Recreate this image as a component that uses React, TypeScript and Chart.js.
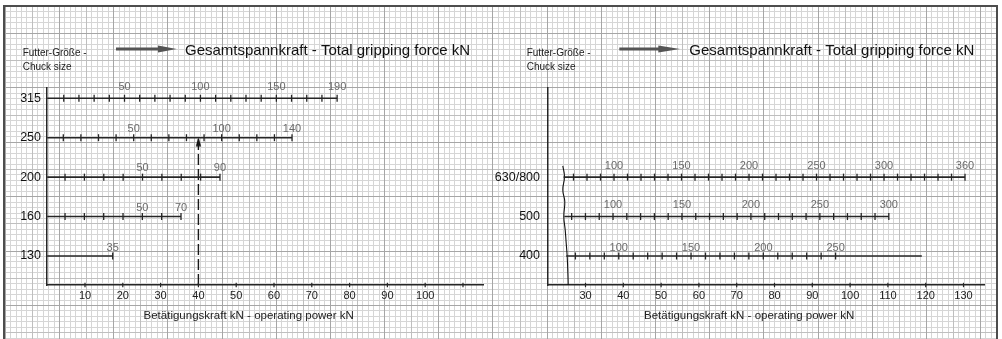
import React, { useEffect, useRef } from 'react';
import { Chart, registerables } from 'chart.js';

Chart.register(...registerables);

const FONT = '"Liberation Sans", Arial, Helvetica, sans-serif';
const INK = '#262626';

// ---------------- data ----------------
// Left nomogram: chuck sizes 130 … 315
const leftSizes = ['130', '160', '200', '250', '315'];
const leftAnchorForce = [35, 10, 10, 50, 50]; // gripping force (kN) at anchor tick
const leftAnchorPower = [17.33, 4.72, 4.72, 22.88, 20.45]; // operating power (kN) there
const leftMaxForce = [35, 70, 90, 140, 190]; // end of each force scale
const leftMaxPower = [17.33, 35.4, 45.71, 64.77, 76.7];
const leftTickFrom = [35, 10, 10, 10, 10];
const leftLineStart = [0, 0, 0, 0, 0];
const leftLineEnd = [17.33, 35.4, 45.71, 64.77, 76.7];
const leftLabelForces = [[35], [50, 70], [50, 90], [50, 100, 140], [50, 100, 150, 190]];
const leftPowerTicks = [10, 20, 30, 40, 50, 60, 70, 80, 90, 100, 110];
const leftPowerLabels = [10, 20, 30, 40, 50, 60, 70, 80, 90, 100];

// Right nomogram: chuck sizes 400 … 630/800
const rightSizes = ['400', '500', '630/800'];
const rightAnchorForce = [100, 100, 100];
const rightAnchorPower = [38.8, 37.28, 37.54];
const rightMaxForce = [250, 300, 360];
const rightMaxPower = [96.16, 110.24, 130.4];
const rightTickFrom = [70, 70, 70];
const rightLineStart = [24.9, 24.4, 24.2];
const rightLineEnd = [118.97, 110.24, 130.4];
const rightLabelForces = [
  [100, 150, 200, 250],
  [100, 150, 200, 250, 300],
  [100, 150, 200, 250, 300, 360],
];
const rightPowerTicks = [30, 40, 50, 60, 70, 80, 90, 100, 110, 120, 130];
const rightPowerLabels = [30, 40, 50, 60, 70, 80, 90, 100, 110, 120, 130];

const forceStep = 10;

// axis-break (wavy) line on the right chart: power (kN) and row level
const breakPower = [24.0, 24.44, 24.0, 24.52, 24.26, 24.63, 24.89, 25.16, 25.32, 25.42];
const breakLevel = [2.286, 2.014, 1.676, 1.379, 0.998, 0.66, 0.33, -0.018, -0.399, -0.7355];

// example reading: 40 kN operating power on chuck 250
const examplePower = 40;
const exampleRow = 3;

const chuckTitle = ['Futter-Größe -', 'Chuck size'];
const forceTitle = 'Gesamtspannkraft - Total gripping force kN';
const powerTitle = 'Betätigungskraft kN - operating power kN';

// ---------------- layout / style ----------------
const Y_MIN = -0.7355;
const Y_MAX = 4.278;

const LEFT = {
  sizes: leftSizes,
  anchorForce: leftAnchorForce,
  anchorPower: leftAnchorPower,
  maxForce: leftMaxForce,
  maxPower: leftMaxPower,
  tickFrom: leftTickFrom,
  lineStart: leftLineStart,
  lineEnd: leftLineEnd,
  labelForces: leftLabelForces,
  powerTicks: leftPowerTicks,
  powerLabels: leftPowerLabels,
  xMin: 0,
  xMax: 115.56,
  padLeft: 0,
  yAxisWidth: 47.2,
  padRight: 1002 - 484,
  yLabelPad: 6.2,
  labelLift: [8.5, 8.7, 9.3, 8.5, 11.3],
  head: { futterX: -24.5, arrowStart: 68.8, arrowBase: 110.8, arrowTip: 129.5, titleX: 137.8 },
  paper: true,
  example: true,
  breakLine: false,
};

const RIGHT = {
  sizes: rightSizes,
  anchorForce: rightAnchorForce,
  anchorPower: rightAnchorPower,
  maxForce: rightMaxForce,
  maxPower: rightMaxPower,
  tickFrom: rightTickFrom,
  lineStart: rightLineStart,
  lineEnd: rightLineEnd,
  labelForces: rightLabelForces,
  powerTicks: rightPowerTicks,
  powerLabels: rightPowerLabels,
  xMin: 20,
  xMax: 135.5,
  padLeft: 440,
  yAxisWidth: 107.7,
  padRight: 1002 - 984.3,
  yLabelPad: 7.7,
  labelLift: [8.2, 11.3, 11.4],
  head: { futterX: -21, arrowStart: 71.6, arrowBase: 110.6, arrowTip: 132.3, titleX: 141.6 },
  paper: false,
  example: false,
  breakLine: true,
};

function powerAt(side: any, i: number, F: number) {
  const fa = side.anchorForce[i];
  const pa = side.anchorPower[i];
  const fb = side.maxForce[i];
  const pb = side.maxPower[i];
  if (fb === fa) return pb;
  return pa + ((F - fa) * (pb - pa)) / (fb - fa);
}

function tickForces(side: any, i: number) {
  const out: number[] = [];
  for (let F = side.tickFrom[i]; F < side.maxForce[i]; F += forceStep) out.push(F);
  out.push(side.maxForce[i]);
  return out;
}

function makeArrowHead() {
  const c = document.createElement('canvas');
  c.width = 7;
  c.height = 18;
  const g = c.getContext('2d')!;
  g.fillStyle = '#111';
  g.beginPath();
  g.moveTo(3.5, 8.5);
  g.lineTo(6.2, 17.5);
  g.lineTo(0.8, 17.5);
  g.closePath();
  g.fill();
  return c;
}

const paperPlugin = {
  id: 'paper',
  beforeDraw(chart: any) {
    const { ctx, width, height } = chart;
    ctx.save();
    ctx.fillStyle = '#ffffff';
    ctx.fillRect(0, 0, width, height);
    const fL = 4, fT = 6, fR = 997;
    const colors = ['#d6d6d6', '#bfbfbf', '#a6a6a6'];
    const vx0 = 4.8, vstep = 5.418, hy0 = 5.8, hstep = 5.44;
    ctx.lineWidth = 1;
    for (let level = 0; level < 3; level++) {
      ctx.strokeStyle = colors[level];
      ctx.beginPath();
      for (let k = 0; ; k++) {
        const x = vx0 + k * vstep;
        if (x > fR) break;
        const lv = k % 10 === 0 ? 2 : k % 5 === 0 ? 1 : 0;
        if (lv !== level) continue;
        const px = Math.round(x) + 0.5;
        ctx.moveTo(px, fT);
        ctx.lineTo(px, height);
      }
      for (let k = 0; ; k++) {
        const y = hy0 + k * hstep;
        if (y > height) break;
        const lv = k % 10 === 5 ? 2 : k % 10 === 0 ? 1 : 0;
        if (lv !== level) continue;
        const py = Math.round(y) + 0.5;
        ctx.moveTo(fL, py);
        ctx.lineTo(fR, py);
      }
      ctx.stroke();
    }
    ctx.strokeStyle = '#4d4d4d';
    ctx.lineWidth = 2;
    ctx.beginPath();
    ctx.moveTo(fL, height);
    ctx.lineTo(fL, fT);
    ctx.lineTo(fR, fT);
    ctx.lineTo(fR, height);
    ctx.stroke();
    ctx.restore();
  },
};

function makeConfig(side: any): any {
  const datasets: any[] = [];
  side.sizes.forEach((_: string, i: number) => {
    datasets.push({
      data: [
        { x: side.lineStart[i], y: i },
        { x: side.lineEnd[i], y: i },
      ],
      showLine: true,
      borderColor: INK,
      borderWidth: 1.6,
      pointRadius: 0,
      clip: false,
    });
    datasets.push({
      data: tickForces(side, i).map((F) => ({ x: powerAt(side, i, F), y: i })),
      showLine: false,
      pointStyle: 'line',
      pointRadius: 3.5,
      pointRotation: 90,
      pointBorderColor: INK,
      pointBackgroundColor: INK,
      pointBorderWidth: 1.3,
      clip: false,
    });
  });
  // tick crosses on the power axis
  datasets.push({
    data: side.powerTicks.map((v: number) => ({ x: v, y: Y_MIN })),
    showLine: false,
    pointStyle: 'line',
    pointRadius: 2.2,
    pointRotation: 90,
    pointBorderColor: INK,
    pointBorderWidth: 1.2,
    clip: false,
  });
  if (side.example) {
    datasets.push({
      data: [
        { x: examplePower, y: Y_MIN },
        { x: examplePower, y: exampleRow },
      ],
      showLine: true,
      borderColor: '#1a1a1a',
      borderWidth: 1.4,
      borderDash: [11, 4],
      pointRadius: 0,
      clip: false,
    });
    datasets.push({
      data: [{ x: examplePower, y: exampleRow }],
      showLine: false,
      pointStyle: makeArrowHead(),
      pointRadius: 4,
      clip: false,
    });
  }
  if (side.breakLine) {
    datasets.push({
      data: breakPower.map((p, k) => ({ x: p, y: breakLevel[k] })),
      showLine: true,
      borderColor: '#111',
      borderWidth: 1.1,
      tension: 0.45,
      pointRadius: 0,
      clip: false,
    });
  }

  const labelsPlugin = {
    id: 'rowLabels',
    afterDatasetsDraw(chart: any) {
      const { ctx } = chart;
      const xs = chart.scales.x;
      const ys = chart.scales.y;
      ctx.save();
      ctx.font = `11px ${FONT}`;
      ctx.fillStyle = '#6b6b6b';
      ctx.textAlign = 'center';
      ctx.textBaseline = 'middle';
      side.labelForces.forEach((list: number[], i: number) => {
        list.forEach((F) => {
          ctx.fillText(
            String(F),
            xs.getPixelForValue(powerAt(side, i, F)),
            ys.getPixelForValue(i) - side.labelLift[i]
          );
        });
      });
      ctx.restore();
    },
  };

  const headPlugin = {
    id: 'heads',
    afterDraw(chart: any) {
      const { ctx, chartArea } = chart;
      const L = chartArea.left;
      const T = chartArea.top;
      const B = chartArea.bottom;
      const h = side.head;
      ctx.save();
      ctx.textAlign = 'left';
      ctx.textBaseline = 'alphabetic';
      ctx.fillStyle = '#222';
      ctx.font = `10px ${FONT}`;
      ctx.fillText(chuckTitle[0], L + h.futterX, T - 31.3);
      ctx.fillText(chuckTitle[1], L + h.futterX, T - 17.3);
      // arrow
      const ay = T - 38.3;
      ctx.strokeStyle = '#555';
      ctx.lineWidth = 3.2;
      ctx.beginPath();
      ctx.moveTo(L + h.arrowStart, ay);
      ctx.lineTo(L + h.arrowBase + 1, ay);
      ctx.stroke();
      ctx.fillStyle = '#555';
      ctx.beginPath();
      ctx.moveTo(L + h.arrowBase, ay - 3.6);
      ctx.lineTo(L + h.arrowTip, ay);
      ctx.lineTo(L + h.arrowBase, ay + 3.6);
      ctx.closePath();
      ctx.fill();
      // force title
      ctx.fillStyle = '#111';
      ctx.font = `15px ${FONT}`;
      ctx.fillText(forceTitle, L + h.titleX, T - 32.3);
      // power axis title
      ctx.fillStyle = '#222';
      ctx.font = `11.5px ${FONT}`;
      ctx.textAlign = 'center';
      ctx.fillText(powerTitle, L + 201.5, B + 34.3);
      ctx.restore();
    },
  };

  const plugins: any[] = [labelsPlugin, headPlugin];
  if (side.paper) plugins.unshift(paperPlugin);

  return {
    type: 'scatter',
    data: { datasets },
    plugins,
    options: {
      responsive: false,
      animation: false,
      events: [],
      layout: {
        autoPadding: false,
        padding: { left: side.padLeft, top: 87.3, right: side.padRight, bottom: 0 },
      },
      plugins: {
        legend: { display: false },
        tooltip: { enabled: false },
        title: { display: false },
      },
      scales: {
        x: {
          type: 'linear',
          min: side.xMin,
          max: side.xMax,
          afterBuildTicks: (s: any) => {
            s.ticks = side.powerTicks.map((v: number) => ({ value: v }));
          },
          afterFit: (s: any) => {
            s.height = 54;
          },
          grid: { display: false, drawTicks: false },
          border: { display: true, color: INK, width: 1.5 },
          ticks: {
            autoSkip: false,
            maxRotation: 0,
            padding: 4.5,
            color: '#222',
            font: { family: FONT, size: 11 },
            callback: (v: any) => (side.powerLabels.includes(v) ? String(v) : ''),
          },
        },
        y: {
          type: 'linear',
          min: Y_MIN,
          max: Y_MAX,
          afterBuildTicks: (s: any) => {
            s.ticks = side.sizes.map((_: string, i: number) => ({ value: i }));
          },
          afterFit: (s: any) => {
            s.width = side.yAxisWidth;
          },
          grid: { display: false, drawTicks: false },
          border: { display: true, color: INK, width: 1.5 },
          ticks: {
            autoSkip: false,
            padding: side.yLabelPad,
            color: '#111',
            font: { family: FONT, size: 12.5 },
            callback: (v: any) => side.sizes[v] ?? '',
          },
        },
      },
    },
  };
}

export default function App() {
  const leftRef = useRef<HTMLCanvasElement>(null);
  const rightRef = useRef<HTMLCanvasElement>(null);

  useEffect(() => {
    const c1 = new Chart(leftRef.current as HTMLCanvasElement, makeConfig(LEFT));
    const c2 = new Chart(rightRef.current as HTMLCanvasElement, makeConfig(RIGHT));
    return () => {
      c1.destroy();
      c2.destroy();
    };
  }, []);

  return (
    <div
      style={{
        position: 'absolute',
        left: 0,
        top: 0,
        width: 1002,
        height: 339,
        overflow: 'hidden',
        background: '#fff',
      }}
    >
      <canvas ref={leftRef} width={1002} height={339} style={{ position: 'absolute', left: 0, top: 0 }} />
      <canvas ref={rightRef} width={1002} height={339} style={{ position: 'absolute', left: 0, top: 0 }} />
    </div>
  );
}
